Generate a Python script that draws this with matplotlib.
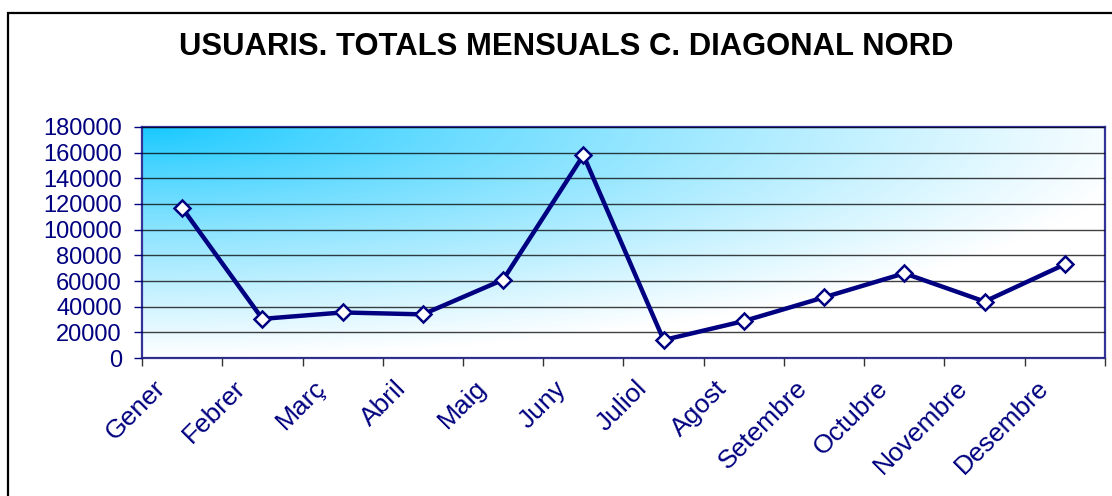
#Monthly users chart, C. Diagonal Nord
import numpy as np
import matplotlib.pyplot as plt
import matplotlib.transforms as mtransforms
from matplotlib.patches import Rectangle

plt.rcParams['font.family'] = ['Liberation Sans', 'DejaVu Sans']

months = ['Gener', 'Febrer', 'Març', 'Abril', 'Maig', 'Juny', 'Juliol',
          'Agost', 'Setembre', 'Octubre', 'Novembre', 'Desembre']
usuaris = [117000, 30500, 35500, 34000, 61000, 158000, 14000,
           28800, 47300, 66000, 44000, 73000]
yticks = [0, 20000, 40000, 60000, 80000, 100000, 120000, 140000, 160000, 180000]

navy = '#000080'

fig = plt.figure(figsize=(11.12, 4.96), dpi=100)
ax = fig.add_axes([0.1277, 0.2782, 0.866, 0.4658])

#background gradient: light blue in the top-left corner fading to white
gx, gy = np.meshgrid(np.linspace(0, 1, 400), np.linspace(0, 1, 200))
d = np.clip(np.sqrt((gx / 1.05)**2 + (gy / 1.0)**2), 0, 1) ** 0.85
c0 = np.array([20, 200, 255]) / 255.0
c1 = np.array([255, 255, 255]) / 255.0
img = c0[None, None, :] * (1 - d[..., None]) + c1[None, None, :] * d[..., None]
ax.imshow(img, extent=[0, 1, 0, 1], transform=ax.transAxes, aspect='auto',
          zorder=0, origin='upper')

x = np.arange(len(months))
ax.plot(x, usuaris, color=navy, lw=3.2, marker='D', ms=8.5,
        mfc='white', mec=navy, mew=1.8, zorder=5)

ax.set_xlim(-0.5, len(months) - 0.5)
ax.set_ylim(0, 180000)
ax.set_yticks(yticks)
ax.set_yticklabels([str(v) for v in yticks])
ax.yaxis.grid(True, color='black', lw=1, alpha=0.75, zorder=1)
ax.set_axisbelow(False)

ax.set_xticks(x)
ax.set_xticklabels(months, rotation=45, ha='right', va='top')
ax.set_xticks(np.arange(len(months) + 1) - 0.5, minor=True)
ax.tick_params(axis='x', which='major', length=0, pad=13, labelsize=19,
               labelcolor=navy)
ax.tick_params(axis='x', which='minor', length=6, width=1, color='#333333')
ax.tick_params(axis='y', length=6, width=1, color=navy, labelsize=17,
               labelcolor=navy, pad=8.5)
shift = mtransforms.ScaledTranslation(-0.12, 0, fig.dpi_scale_trans)
for lab in ax.get_xticklabels():
    lab.set_transform(lab.get_transform() + shift)

for s in ax.spines.values():
    s.set_color('#333399')
    s.set_linewidth(1.6)

fig.text(0.509, 0.905, 'USUARIS. TOTALS MENSUALS C. DIAGONAL NORD',
         ha='center', va='center', fontsize=22.3, fontweight='bold', color='black')

#outer chart frame (runs off the right and bottom edges)
fig.patches.append(Rectangle((8 / 1112, -0.2), 1.2, 1.2 - 13 / 496,
                             transform=fig.transFigure, fill=False,
                             ec='black', lw=1.6))

plt.savefig('out.png', dpi=100)
